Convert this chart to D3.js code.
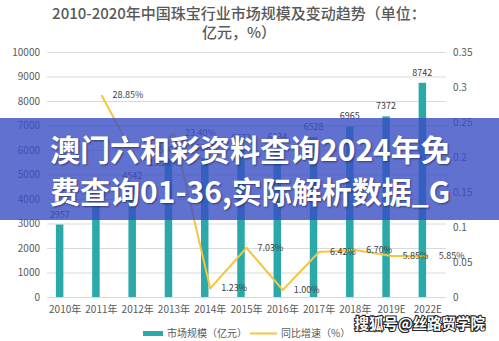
<!DOCTYPE html>
<html>
<head>
<meta charset="utf-8">
<script src="https://cdn.jsdelivr.net/npm/d3@7"></script>
<style>
  html, body { margin: 0; padding: 0; background: #fff; }
  svg { display: block; font-family: "Noto Sans CJK SC", "Noto Sans", sans-serif; }
</style>
</head>
<body>
<svg id="chart" width="499" height="341"></svg>
<script>
// Market size (100 million yuan) and year-on-year growth
const categories = ["2010年", "2011年", "2012年", "2013年", "2014年", "2015年", "2016年", "2017年", "2018年", "2019E", "2022E"];
const marketSize = [2957, 3810, 4542, 5605, 5674, 6073, 6134, 6528, 6965, 7372, 8742];
const growthRate = [null, 0.2885, 0.1921, 0.2340, 0.0123, 0.0703, 0.0100, 0.0642, 0.0670, 0.0585, 0.0585];
const leftTicks = [0, 1000, 2000, 3000, 4000, 5000, 6000, 7000, 8000, 9000, 10000];
const rightTicks = [0, 0.05, 0.1, 0.15, 0.2, 0.25, 0.3, 0.35];
const titleLines = ["2010-2020年中国珠宝行业市场规模及变动趋势（单位：", "亿元，%）"];
const legendLabels = ["市场规模（亿元）", "同比增速（%）"];
const bannerLines = ["澳门六和彩资料查询2024年免", "费查询01-36,实际解析数据_G"];
const watermark = "搜狐号@丝路贸学院";

const svg = d3.select("#chart");
const barColor = "#2aa9a8";
const lineColor = "#f5c540";
const textColor = "#595959";

const x = d3.scaleBand().domain(categories).range([47, 446]).padding(0);
const yL = d3.scaleLinear().domain([0, 10000]).range([297, 52]);
const yR = d3.scaleLinear().domain([0, 0.35]).range([297, 52]);
const barW = 7.5, barShift = 5.5;
const cx = c => x(c) + x.bandwidth() / 2;

// Title
svg.append("g").selectAll("text").data(titleLines).join("text")
  .attr("x", 239).attr("y", (d, i) => 19 + i * 19)
  .attr("text-anchor", "middle")
  .attr("font-size", 15).attr("font-weight", 500)
  .attr("fill", textColor).text(d => d);

// Gridlines
svg.append("g").call(d3.axisLeft(yL).tickValues(leftTicks).tickSize(-(446 - 47)).tickFormat(""))
  .attr("transform", "translate(47,0)")
  .call(g => g.select(".domain").remove())
  .call(g => g.selectAll("line").attr("stroke", "#d9d9d9"));

// Left axis labels
svg.append("g").attr("transform", "translate(47,0)")
  .call(d3.axisLeft(yL).tickValues(leftTicks).tickSize(0).tickPadding(7).tickFormat(d3.format("d")))
  .call(g => g.select(".domain").remove())
  .call(g => g.selectAll("text").attr("fill", textColor).attr("font-size", 10).attr("font-family", "Noto Sans CJK SC"));

// Right axis labels
svg.append("g").attr("transform", "translate(446,0)")
  .call(d3.axisRight(yR).tickValues(rightTicks).tickSize(0).tickPadding(7).tickFormat(d => d === 0 ? "0" : d3.format("")(+d.toFixed(2))))
  .call(g => g.select(".domain").remove())
  .call(g => g.selectAll("text").attr("fill", textColor).attr("font-size", 10).attr("font-family", "Noto Sans CJK SC"));

// Category labels
svg.append("g").attr("transform", "translate(0,297)")
  .call(d3.axisBottom(x).tickSize(0).tickPadding(9))
  .call(g => g.select(".domain").remove())
  .call(g => g.selectAll("text").attr("fill", textColor).attr("font-size", 10).attr("font-family", "Noto Sans CJK SC"));

// Bars
svg.append("g").selectAll("rect").data(categories).join("rect")
  .attr("x", (c) => cx(c) - barShift - barW / 2)
  .attr("width", barW)
  .attr("y", (c, i) => yL(marketSize[i]))
  .attr("height", (c, i) => yL(0) - yL(marketSize[i]))
  .attr("fill", barColor);

svg.append("g").selectAll("text").data(categories).join("text")
  .attr("x", c => cx(c) - barShift)
  .attr("y", (c, i) => yL(marketSize[i]) - 7)
  .attr("text-anchor", "middle").attr("font-size", 9).attr("fill", "#404040")
  .text((c, i) => marketSize[i]);

// Growth line
const pts = categories.map((c, i) => ({ c, v: growthRate[i] })).filter(d => d.v !== null);
svg.append("path").datum(pts)
  .attr("fill", "none").attr("stroke", lineColor).attr("stroke-width", 2)
  .attr("d", d3.line().x(d => cx(d.c)).y(d => yR(d.v)));

svg.append("g").selectAll("text").data(pts).join("text")
  .attr("x", d => cx(d.c) + 11)
  .attr("y", d => yR(d.v) + 3)
  .attr("font-size", 9).attr("fill", "#404040")
  .text(d => (d.v * 100).toFixed(2) + "%");

// Legend
const lg = svg.append("g");
lg.append("rect").attr("x", 143).attr("y", 331).attr("width", 20).attr("height", 5).attr("fill", barColor);
lg.append("text").attr("x", 167).attr("y", 337).attr("font-size", 10).attr("fill", textColor).text(legendLabels[0]);
lg.append("line").attr("x1", 250).attr("x2", 277).attr("y1", 333.5).attr("y2", 333.5).attr("stroke", lineColor).attr("stroke-width", 2);
lg.append("text").attr("x", 281).attr("y", 337).attr("font-size", 10).attr("fill", textColor).text(legendLabels[1]);

// Headline banner across the chart
svg.append("rect").attr("x", 0).attr("y", 118).attr("width", 499).attr("height", 102)
  .attr("fill", "rgb(58,78,196)").attr("opacity", 0.8);
svg.append("g").selectAll("text").data(bannerLines).join("text")
  .attr("x", 50).attr("y", (d, i) => 161 + i * 42)
  .attr("font-size", 30).attr("font-weight", 700).attr("fill", "#fff")
  .style("text-shadow", "1px 1px 2px rgba(0,0,0,0.45)")
  .text(d => d);

// Watermark
svg.append("text").attr("x", 485).attr("y", 329).attr("text-anchor", "end")
  .attr("font-size", 14.5).attr("font-weight", 700)
  .attr("fill", "#fff").attr("stroke", "#222").attr("stroke-width", 2.2)
  .attr("paint-order", "stroke").text(watermark);
</script>
</body>
</html>
